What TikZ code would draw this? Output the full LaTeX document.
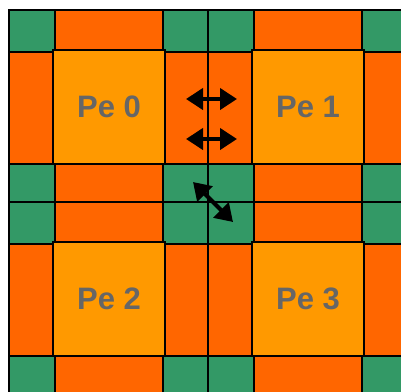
\documentclass[tikz,border=0pt]{standalone}
\usepackage{fontspec}
\setmainfont{Liberation Sans}
\usetikzlibrary{arrows.meta,positioning,calc}
\definecolor{peGreen}{HTML}{339966}
\definecolor{peRed}{HTML}{FF6600}
\definecolor{peOrange}{HTML}{FF9900}
\definecolor{peText}{HTML}{666666}
\tikzset{
	ghostcorner/.style={draw, line width=1.2pt, fill=peGreen},
	ghostedge/.style={draw, line width=1.2pt, fill=peRed},
	core/.style={draw, line width=1.4pt, fill=peOrange, minimum width=112pt, minimum height=114pt, inner sep=0pt, text=peText, font=\fontsize{31}{31}\selectfont\bfseries},
	link/.style={{Triangle[length=17pt,width=21pt]}-{Triangle[length=17pt,width=21pt]}, line width=4pt}
}

\begin{document}
\begin{tikzpicture}[x=1pt, y=-1pt]
	\useasboundingbox (0,0) rectangle (401,391);
	\clip (0,0) rectangle (401,391);
	% one tile per processing element: halo cells around a core
	\foreach \tx/\ty/\n in {9/10/0, 208/10/1, 9/202/2, 208/202/3} {
		\begin{scope}[shift={(\tx,\ty)}]
			\foreach \xa/\ya/\xb/\yb in {0/0/46/42, 154/0/199/42, 0/154/46/192, 154/154/199/192}
				\draw[ghostcorner] (\xa,\ya) rectangle (\xb,\yb);
			\foreach \xa/\ya/\xb/\yb in {46/0/154/42, 0/42/46/154, 154/42/199/154, 46/154/154/192}
				\draw[ghostedge] (\xa,\ya) rectangle (\xb,\yb);
			\node[core] (pe\n) at (100,97) {Pe \n};
		\end{scope}
	}
	% exchange between neighbours
	\coordinate (hAw) at (186,99);
	\coordinate (hAe) at (237,99);
	\coordinate (hBw) at (186,139);
	\coordinate (hBe) at (237,139);
	\coordinate (dNw) at (193,182);
	\coordinate (dSe) at (233,222);
	\draw[link] (hAw) -- (hAe);
	\draw[link] (hBw) -- (hBe);
	\draw[link] (dNw) -- (dSe);
\end{tikzpicture}
\end{document}
